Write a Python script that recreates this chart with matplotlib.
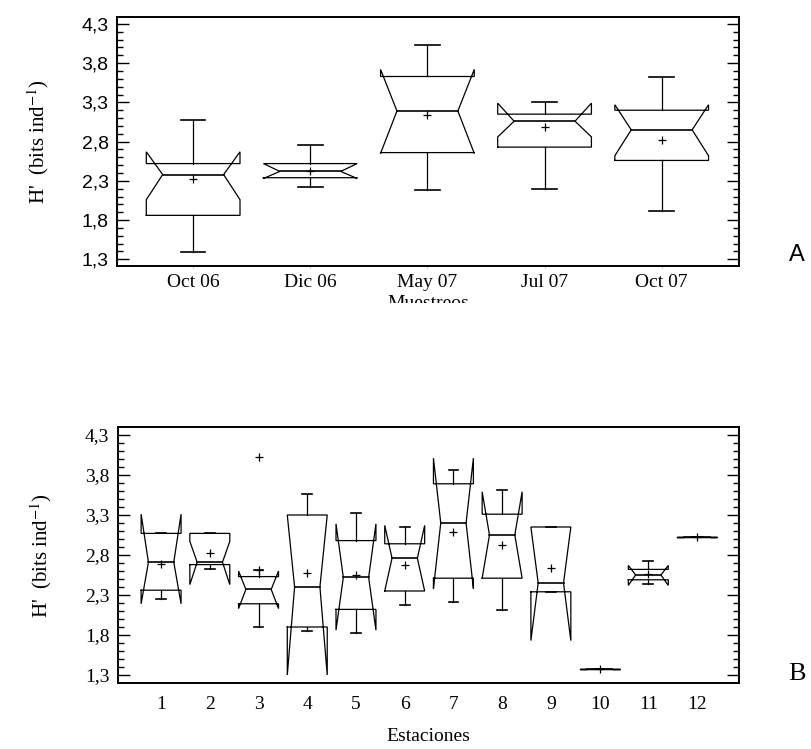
import numpy as np
import matplotlib
matplotlib.use("Agg")
import matplotlib.pyplot as plt
from matplotlib.ticker import FixedLocator
from matplotlib.transforms import Bbox, TransformedBbox

plt.rcParams["mathtext.fontset"] = "stix"

# Panel A - sampling dates
muestreos = ["Oct 06", "Dic 06", "May 07", "Jul 07", "Oct 07"]
a_whi_hi = [3.07, 2.76, 4.03, 3.30, 3.62]
a_q3 = [2.52, 2.52, 3.63, 3.15, 3.20]
a_ci_hi = [2.67, 2.52, 3.72, 3.29, 3.27]
a_med = [2.38, 2.42, 3.19, 3.06, 2.95]
a_mean = [2.32, 2.42, 3.14, 2.98, 2.82]
a_ci_lo = [2.06, 2.33, 2.65, 2.86, 2.62]
a_q1 = [1.86, 2.34, 2.66, 2.73, 2.56]
a_whi_lo = [1.39, 2.22, 2.18, 2.20, 1.91]

# Panel B - stations
estaciones = [str(i) for i in range(1, 13)]
b_whi_hi = [3.07, 3.07, 2.61, 3.56, 3.33, 3.15, 3.86, 3.61, 3.15, 1.38, 2.72, 3.03]
b_q3 = [3.07, 3.07, 2.53, 3.30, 2.98, 2.94, 3.69, 3.31, 3.15, 1.38, 2.62, 3.03]
b_ci_hi = [3.31, 2.97, 2.60, 3.30, 3.19, 3.17, 4.01, 3.59, 3.15, 1.38, 2.67, 3.03]
b_med = [2.71, 2.71, 2.37, 2.40, 2.52, 2.76, 3.20, 3.05, 2.45, 1.38, 2.55, 3.03]
b_mean = [2.69, 2.82, 2.61, 2.58, 2.55, 2.67, 3.09, 2.92, 2.64, 1.38, 2.56, 3.03]
b_ci_lo = [2.19, 2.43, 2.13, 1.30, 1.86, 2.35, 2.38, 2.51, 1.73, 1.38, 2.42, 3.03]
b_q1 = [2.36, 2.68, 2.19, 1.90, 2.12, 2.35, 2.51, 2.51, 2.34, 1.38, 2.49, 3.03]
b_whi_lo = [2.25, 2.63, 1.90, 1.85, 1.83, 2.18, 2.21, 2.11, 2.34, 1.38, 2.44, 3.03]
b_outlier_pos = [3]
b_outlier_val = [4.03]

yticks = np.arange(1.3, 4.31, 0.5)
ytick_labels = [("%.1f" % v).replace(".", ",") for v in yticks]

LW = 0.9


def notched_box(ax, x, q1, med, q3, lo, hi, clo, chi, mean, w=0.8, nw=0.52, cw=0.21):
    l, r = x - w / 2, x + w / 2
    nl, nr = x - nw / 2, x + nw / 2
    ax.plot([l, r, r, nr, r, r, l, l, nl, l, l],
            [q1, q1, clo, med, chi, q3, q3, chi, med, clo, q1],
            color="k", lw=LW, solid_joinstyle="miter")
    ax.plot([nl, nr], [med, med], color="k", lw=LW + 0.3)
    ax.plot([x, x], [q3, hi], color="k", lw=LW)
    ax.plot([x, x], [q1, lo], color="k", lw=LW)
    ax.plot([x - cw / 2, x + cw / 2], [hi, hi], color="k", lw=LW + 0.3)
    ax.plot([x - cw / 2, x + cw / 2], [lo, lo], color="k", lw=LW + 0.3)
    ax.plot([x], [mean], marker="+", color="k", ms=6, mew=0.9)


def style_y(ax, lo, hi, family):
    ax.set_ylim(lo, hi)
    ax.yaxis.set_major_locator(FixedLocator(yticks))
    ax.yaxis.set_minor_locator(FixedLocator(np.arange(1.3, 4.41, 0.1)))
    ax.set_yticklabels(ytick_labels, family=family, fontsize=14)
    ax.tick_params(axis="y", which="major", direction="in", length=8.5, width=1.0,
                   left=True, right=True, pad=6)
    ax.tick_params(axis="y", which="minor", direction="in", length=4.3, width=1.0,
                   left=True, right=True)
    for s in ax.spines.values():
        s.set_linewidth(1.4)


fig = plt.figure(figsize=(8.12, 7.49), dpi=100)

# ---- Panel A
axA = fig.add_axes([0.1441, 0.6449, 0.766, 0.3329])
posA = np.arange(1, len(muestreos) + 1)
for i, p in enumerate(posA):
    notched_box(axA, p, a_q1[i], a_med[i], a_q3[i], a_whi_lo[i], a_whi_hi[i],
                a_ci_lo[i], a_ci_hi[i], a_mean[i], w=0.8, nw=0.52, cw=0.21)
axA.set_xlim(0.35, 5.66)
style_y(axA, 1.215, 4.393, "Liberation Sans")
axA.set_xticks(posA)
axA.set_xticklabels(muestreos, family="Liberation Serif", fontsize=14)
axA.tick_params(axis="x", direction="out", length=2, color="#d8d8d8", pad=4)
axA.set_ylabel("H'  (bits ind$^{-1}$)", family="Liberation Serif", fontsize=15, labelpad=22)
xl = axA.set_xlabel("Muestreos", family="Liberation Serif", fontsize=14, labelpad=3)
xl.set_clip_box(TransformedBbox(Bbox([[0, 1 - 303 / 749], [1, 1]]), fig.transFigure))
xl.set_clip_on(True)
fig.text(797 / 812, 1 - 255 / 749, "A", family="Liberation Sans", fontsize=17,
         ha="center", va="center")

# ---- Panel B
axB = fig.add_axes([0.145, 0.0877, 0.765, 0.3418])
posB = np.arange(1, len(estaciones) + 1)
for i, p in enumerate(posB):
    notched_box(axB, p, b_q1[i], b_med[i], b_q3[i], b_whi_lo[i], b_whi_hi[i],
                b_ci_lo[i], b_ci_hi[i], b_mean[i], w=0.82, nw=0.52, cw=0.2)
axB.plot(b_outlier_pos, b_outlier_val, linestyle="none", marker="+", color="k", ms=6, mew=0.9)
axB.set_xlim(0.11, 12.86)
style_y(axB, 1.196, 4.396, "Liberation Serif")
axB.set_xticks(posB)
axB.set_xticklabels(estaciones, family="Liberation Serif", fontsize=14)
axB.tick_params(axis="x", length=0, pad=9)
axB.set_ylabel("H'  (bits ind$^{-1}$)", family="Liberation Serif", fontsize=15, labelpad=22)
axB.set_xlabel("Estaciones", family="Liberation Serif", fontsize=14, labelpad=11)
fig.text(797 / 812, 1 - 674 / 749, "B", family="Liberation Serif", fontsize=19,
         ha="center", va="center")

fig.savefig("out.png", dpi=100)
